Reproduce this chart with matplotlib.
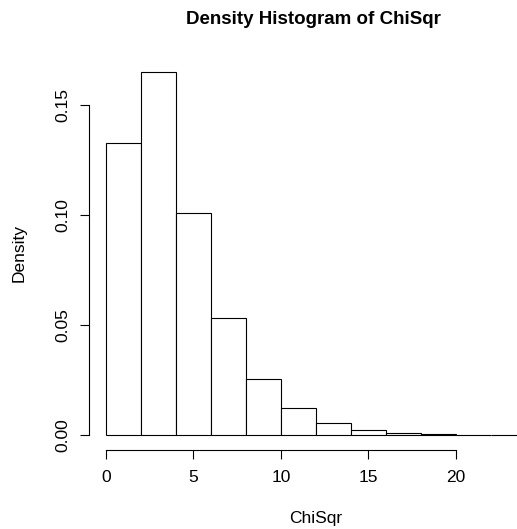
import numpy as np
import matplotlib
matplotlib.use("Agg")
import matplotlib.pyplot as plt

plt.rcParams['font.family'] = ['Liberation Sans', 'DejaVu Sans']

# histogram breaks and densities
breaks = [0, 2, 4, 6, 8, 10, 12, 14, 16, 18, 20, 22, 24]
density = [0.1327, 0.1650, 0.1008, 0.0533, 0.0256, 0.0123,
           0.0055, 0.0024, 0.0010, 0.0005, 0.0002, 0.0001]
xticks = [0, 5, 10, 15, 20]
yticks = [0.00, 0.05, 0.10, 0.15]
ytick_labels = ['0.00', '0.05', '0.10', '0.15']

W, H = 517, 529
fig = plt.figure(figsize=(W / 100, H / 100), dpi=100)
ax = fig.add_axes([89.25 / W, (H - 449.5) / H, 453.2 / W, 392 / H])

lefts = np.array(breaks[:-1])
widths = np.diff(breaks)
ax.bar(lefts, density, width=widths, align='edge', facecolor='white',
       edgecolor='black', linewidth=0.8)

ax.set_xlim(-0.96, 24.96)
ax.set_ylim(-0.0066, 0.1716)

for s in ['top', 'right']:
    ax.spines[s].set_visible(False)
ax.spines['left'].set_bounds(0, 0.15)
ax.spines['bottom'].set_bounds(0, 20)
for s in ['left', 'bottom']:
    ax.spines[s].set_linewidth(0.8)

ax.set_xticks(xticks)
ax.set_yticks(yticks)
ax.set_yticklabels(ytick_labels, rotation=90, va='center')
ax.tick_params(axis='both', length=6.5, width=0.8, labelsize=12.5)
ax.tick_params(axis='x', pad=8.3)
ax.tick_params(axis='y', pad=6.8)

fig.text(313.5 / W, (H - 24) / H, 'Density Histogram of ChiSqr',
         ha='center', va='baseline', fontsize=13.5, fontweight='bold')
fig.text(315.7 / W, (H - 523.5) / H, 'ChiSqr', ha='center', va='baseline',
         fontsize=12.5)
fig.text(19.5 / W, (H - 253) / H, 'Density', ha='center', va='center',
         rotation=90, fontsize=12.5)

fig.savefig('out.png', dpi=100)
